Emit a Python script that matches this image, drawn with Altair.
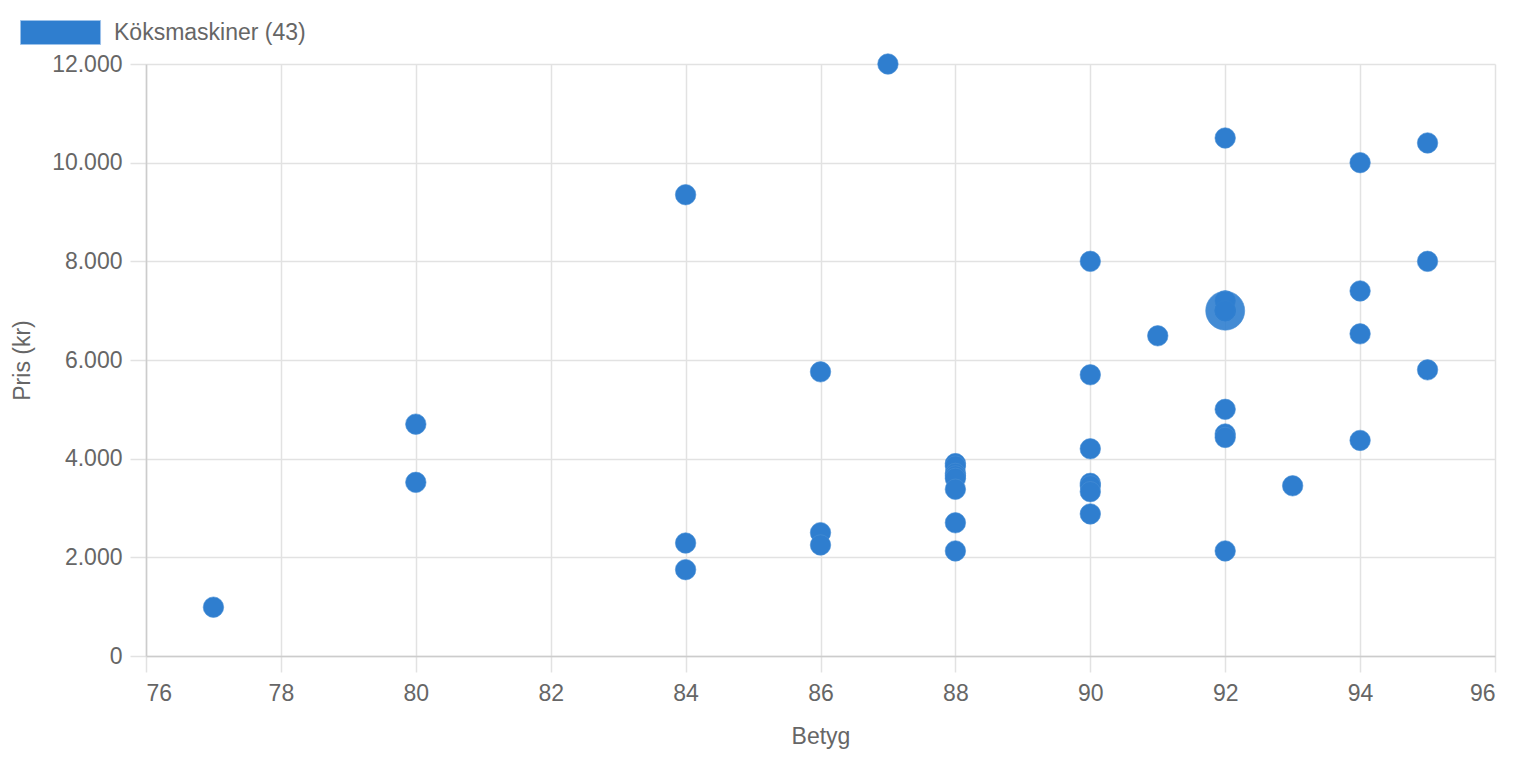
import altair as alt
import pandas as pd

# Betyg (x) och Pris i kr (y) för varje köksmaskin
betyg = [77,
         80, 80,
         84, 84, 84,
         86, 86, 86,
         87,
         88, 88, 88, 88, 88, 88, 88, 88,
         90, 90, 90, 90, 90, 90, 90,
         91,
         92, 92, 92, 92, 92, 92, 92, 92, 92,
         93,
         94, 94, 94, 94,
         95, 95, 95]
pris = [990,
        4700, 3520,
        9350, 2290, 1750,
        5760, 2500, 2250,
        12000,
        3900, 3850, 3700, 3650, 3600, 3380, 2700, 2130,
        8000, 5700, 4200, 3500, 3450, 3330, 2880,
        6490,
        10500, 7000, 7000, 7200, 5000, 4500, 4430, 2130, 7000,
        3450,
        10000, 7400, 6530, 4370,
        10400, 8000, 5800]

serie_namn = f"Köksmaskiner ({len(betyg)})"
x_ticks = [76, 78, 80, 82, 84, 86, 88, 90, 92, 94, 96]
y_ticks = [0, 2000, 4000, 6000, 8000, 10000, 12000]
vald = (92, 7000)  # punkten under muspekaren

df = pd.DataFrame({"Betyg": betyg, "Pris": pris, "Serie": [serie_namn] * len(betyg)})

FONT = "Liberation Sans"
BLUE = "#2f7ecf"
TXT = "#666666"

x_enc = alt.X("Betyg:Q",
              scale=alt.Scale(domain=[76, 96], nice=False, zero=False),
              axis=alt.Axis(values=x_ticks, format="d", title="Betyg", tickSize=16, labelPadding=10,
                            titleBaseline="alphabetic", titleY=87))
y_enc = alt.Y("Pris:Q",
              scale=alt.Scale(domain=[0, 12000], nice=False),
              axis=alt.Axis(values=y_ticks, title="Pris (kr)", tickSize=16, labelPadding=8,
                            labelExpr="replace(format(datum.value, ','), ',', '.')",
                            titleBaseline="alphabetic", titleX=-117))

points = alt.Chart(df).mark_point(
    filled=True, size=420, opacity=1, fillOpacity=1,
    stroke="#4a8fd6", strokeWidth=1, strokeOpacity=0.6
).encode(
    x=x_enc, y=y_enc,
    color=alt.Color("Serie:N",
                    scale=alt.Scale(domain=[serie_namn], range=[BLUE]),
                    legend=alt.Legend(title=None, orient="none", legendX=-126, legendY=-44,
                                      symbolType="M-1,-1H5.67V1H-1Z", symbolSize=576,
                                      symbolStrokeColor="#9cc2ea", symbolStrokeWidth=1,
                                      symbolOpacity=1, labelOffset=69, padding=0,
                                      labelFontSize=23, labelColor=TXT, labelFont=FONT,
                                      labelLimit=400))
)

hover = alt.Chart(df).transform_filter(
    (alt.datum.Betyg == vald[0]) & (alt.datum.Pris == vald[1])
).transform_window(rn="row_number()").transform_filter(alt.datum.rn == 1).mark_point(
    filled=True, size=1520, fillOpacity=0.9, stroke="#4a8fd6", strokeWidth=1, strokeOpacity=0.6
).encode(x="Betyg:Q", y="Pris:Q", color=alt.value(BLUE))

chart = alt.layer(points, hover).properties(
    width=1349, height=592,
    autosize=alt.AutoSizeParams(type="none"),
    padding={"left": 138, "top": 56, "right": 15, "bottom": 94},
).configure_view(strokeWidth=0).configure_axis(
    labelFont=FONT, titleFont=FONT, labelFontSize=23, titleFontSize=23,
    labelColor=TXT, titleColor=TXT, titleFontWeight="normal",
    gridColor="#e2e2e2", gridWidth=1.5, tickColor="#e2e2e2", tickWidth=1.5,
    domainColor="#cccccc", domainWidth=1.5,
)

chart.save("out.html", embed_options={"renderer": "svg", "actions": False})
